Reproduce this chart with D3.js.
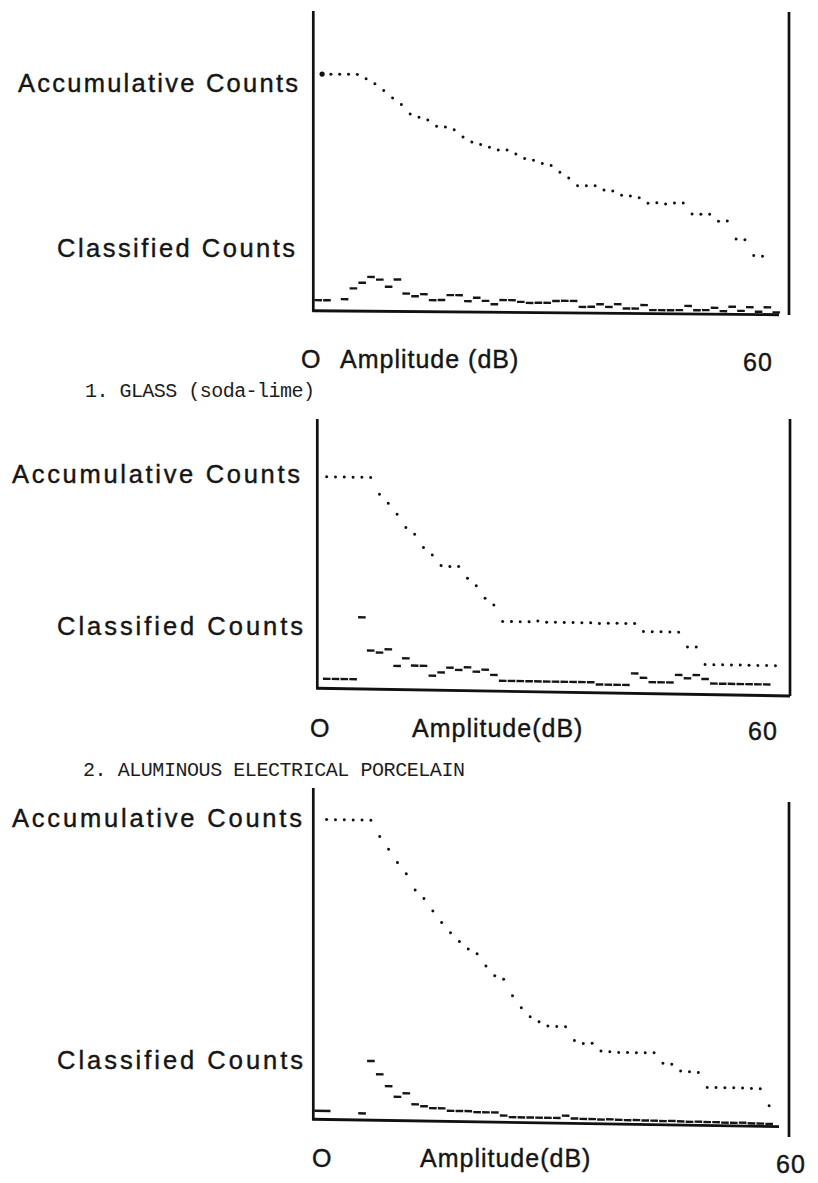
<!DOCTYPE html>
<html>
<head>
<meta charset="utf-8">
<script src="https://cdn.jsdelivr.net/npm/d3@7/dist/d3.min.js"></script>
<style>
  body { margin: 0; background: #fff; }
  svg { display: block; }
  .lab { font-family: "Liberation Sans", Arial, sans-serif; fill: #151515; stroke: #151515; stroke-width: 0.4; }
  .cap { font-family: "Liberation Mono", "Courier New", monospace; fill: #1c1c1c; }
</style>
</head>
<body>
<svg id="fig"></svg>
<script>
const width = 818, height = 1183;
const svg = d3.select("#fig").attr("width", width).attr("height", height);

// accumulative counts per amplitude channel (first channel = 100)
const glassAccum = [100,100,100,100,100,98.2,96.1,93.3,90.2,87.4, 83.5,82.1,81.0,78.4,78.1,77.0,73.9,71.8,70.8,69.7,
  68.6,68.6,66.9,65.1,64.4,63.0,62.2,59.4,57.0,53.8, 53.8,53.8,52.0,51.7,49.9,49.6,48.9,46.6,46.9,46.4,
  46.8,46.8,42.2,42.2,42.2,39.3,39.4,31.8,31.5,24.9,24.6];
// classified counts per channel (null = nothing plotted)
const glassClass = [3.8,3.8,null,4.3,8.9,11.3,13.8,12.7,9.7,12.8, 6.9,5.8,6.7,4.2,4.3,6.4,6.4,3.9,5.4,4.1,
  2.7,4.5,4.5,3.8,3.4,3.5,3.5,4.3,4.4,4.4, 1.9,2.0,3.1,2.0,3.2,1.4,1.4,2.9,0.8,0.8,
  0.8,0.9,2.7,0.9,1.0,2.0,0.6,2.5,0.8,2.4, 0.5,2.4,0.3];

const porcAccum = [100,100,100,100,100,100, 92.1,87.9,82.8,76.6,73.5,67.3,63.9,58.9,58.5,58.6,53.1,49.7,43.8,40.7,
  33,33,33,33,33.5,33,33,33,33,33,33,32.8,33,33,33,33, 29.3,29.3,29.3,29.3,29.3, 22.4,22.4,
  14.2,14.2,14.2,14.2,14.2,14.2,14.2,14.2,14.2];
const porcClass = [3.8,3.8,3.8,3.8,33.1,17.5,16.6,18.2,10.4,14.1, 10.7,10.7,6.1,7.7,10.0,9.0,10.3,8.3,9.3,6.9,
  4.2,4.2,4.2,4.2,4.2,4.2,4.2,4.2,4.2,4.2, 4.2,3.2,3.2,3.2,3.2,8.7,6.7,4.7,4.7,4.7,
  8.3,6.8,8.4,6.6,4.5,4.5,4.5,4.5,4.5,4.5, 4.5];

const thirdAccum = [100,100,100,100,100,100, 94.6,90.4,86.0,82.3,77.0,74.2,70.1,66.3,62.9,60.0,57.6,56.0,52.0,48.8,
  47.7,42.2,38.3,35.3,33.7,32.3,32.2,32.2, 27.6,26.7,26.8, 24.3,24.1,23.9,23.9,23.9,23.9,24.0,
  20.5,20.2, 18.0,17.8,17.6, 12.7,12.7,12.7,12.7,12.7,12.6,12.5, 6.9];
const thirdClass = [2.3,null,null,null,1.7,19.2,14.8,10.9,7.4,8.6, 5.0,4.4,3.8,3.8,3.0,3.0,3.0,2.7,2.7,2.7,
  1.7,1.2,1.2,1.2,1.2,1.2,1.2,2.0, 1.1,1.0,1.0,0.9,1.0,0.9,0.8,0.9,0.8,0.8,0.7,0.8,0.7,0.6,0.7,0.6,0.6,0.5,0.5,0.6,0.4,0.4,0.3];

const accLabel = "Accumulative Counts", clsLabel = "Classified Counts";
const captions = ["1.  GLASS (soda-lime)", "2.  ALUMINOUS ELECTRICAL PORCELAIN"];

// layout of the three scanned panels
const panels = [
  { acc: glassAccum, cls: glassClass, left: 313.3, right: 789, base: 310.7, slope: 0.0086, h: 236.7,
    dom: [-1, 53], shift: -0.45, leftTop: 11, rightTop: 12, rightBottom: 315, lineEnd: 779, bigFirst: true,
    accY: 92, accX: [18, 298], clsY: 257, clsX: [57, 295],
    ampY: 368, zeroX: 301, ampX: 340, ampText: "Amplitude (dB)", sixtyX: 743, sixtyY: 371 },
  { acc: porcAccum, cls: porcClass, left: 317.3, right: 790, base: 688.3, slope: 0.0162, h: 211.7,
    dom: [-1.07, 52.65], shift: 0, leftTop: 419, rightTop: 419, rightBottom: 696, lineEnd: 790,
    accY: 483, accX: [12, 300], clsY: 635, clsX: [57, 303],
    ampY: 737, zeroX: 310, ampX: 412, ampText: "Amplitude(dB)", sixtyX: 748, sixtyY: 740 },
  { acc: thirdAccum, cls: thirdClass, left: 313.3, right: 789, base: 1119.3, slope: 0.0157, h: 300,
    dom: [-1.51, 52.24], shift: 0, leftTop: 788, rightTop: 802, rightBottom: 1137, lineEnd: 779, firstFromAxis: true,
    accY: 827, accX: [12, 302], clsY: 1069, clsX: [57, 303],
    ampY: 1167, zeroX: 312, ampX: 420, ampText: "Amplitude(dB)", sixtyX: 776, sixtyY: 1173 }
];

panels.forEach(p => {
  const w = p.right - p.left;
  const x = d3.scaleLinear().domain(p.dom).range([0, w]);
  const y = d3.scaleLinear().domain([0, 100]).range([0, -p.h]);
  const step = x(1) - x(0);

  // vertical frame lines (straight)
  svg.append("line").attr("x1", p.left).attr("x2", p.left).attr("y1", p.leftTop).attr("y2", p.base + 1)
    .attr("stroke", "#111").attr("stroke-width", 2.7);
  svg.append("line").attr("x1", p.right).attr("x2", p.right).attr("y1", p.rightTop).attr("y2", p.rightBottom)
    .attr("stroke", "#111").attr("stroke-width", 2.7);

  // plotted area, slightly sheared like the plotter output
  const g = svg.append("g")
    .attr("transform", `translate(${p.left},${p.base}) skewY(${Math.atan(p.slope) * 180 / Math.PI})`);

  g.append("line").attr("x1", -1).attr("x2", p.lineEnd - p.left).attr("y1", 0).attr("y2", 0)
    .attr("stroke", "#111").attr("stroke-width", 2.9);

  g.selectAll("circle.acc").data(p.acc).enter().append("circle")
    .attr("class", "acc")
    .attr("cx", (d, i) => x(i))
    .attr("cy", d => y(d))
    .attr("r", (d, i) => (i === 0 && p.bigFirst) ? 2.6 : 1.5)
    .attr("fill", "#111");

  const cls = p.cls.map((v, i) => ({ v, i })).filter(d => d.v !== null);
  g.selectAll("line.cls").data(cls).enter().append("line")
    .attr("class", "cls")
    .attr("x1", d => (d.i === 0 && p.firstFromAxis) ? 1 : x(d.i + p.shift) - step / 2 + 0.6)
    .attr("x2", d => x(d.i + p.shift) + step / 2 - 0.6)
    .attr("y1", d => y(d.v) - 1.6)
    .attr("y2", d => y(d.v) - 1.6)
    .attr("stroke", "#151515").attr("stroke-width", 2.4);

  // labels
  svg.append("text").attr("class", "lab").attr("x", p.accX[0]).attr("y", p.accY)
    .attr("font-size", 25.5).attr("textLength", p.accX[1] - p.accX[0]).attr("lengthAdjust", "spacing")
    .text(accLabel);
  svg.append("text").attr("class", "lab").attr("x", p.clsX[0]).attr("y", p.clsY)
    .attr("font-size", 25.5).attr("textLength", p.clsX[1] - p.clsX[0]).attr("lengthAdjust", "spacing")
    .text(clsLabel);
  svg.append("text").attr("class", "lab").attr("x", p.zeroX).attr("y", p.ampY)
    .attr("font-size", 25).text("O");
  svg.append("text").attr("class", "lab").attr("x", p.ampX).attr("y", p.ampY)
    .attr("font-size", 25).attr("letter-spacing", 1).text(p.ampText);
  svg.append("text").attr("class", "lab").attr("x", p.sixtyX).attr("y", p.sixtyY)
    .attr("font-size", 25).attr("letter-spacing", 1).text("60");
});

svg.append("text").attr("class", "cap").attr("x", 85).attr("y", 397).attr("font-size", 20)
  .attr("textLength", 230).attr("lengthAdjust", "spacing").text(captions[0]);
svg.append("text").attr("class", "cap").attr("x", 83).attr("y", 776).attr("font-size", 20)
  .attr("textLength", 382).attr("lengthAdjust", "spacing").text(captions[1]);
</script>
</body>
</html>
